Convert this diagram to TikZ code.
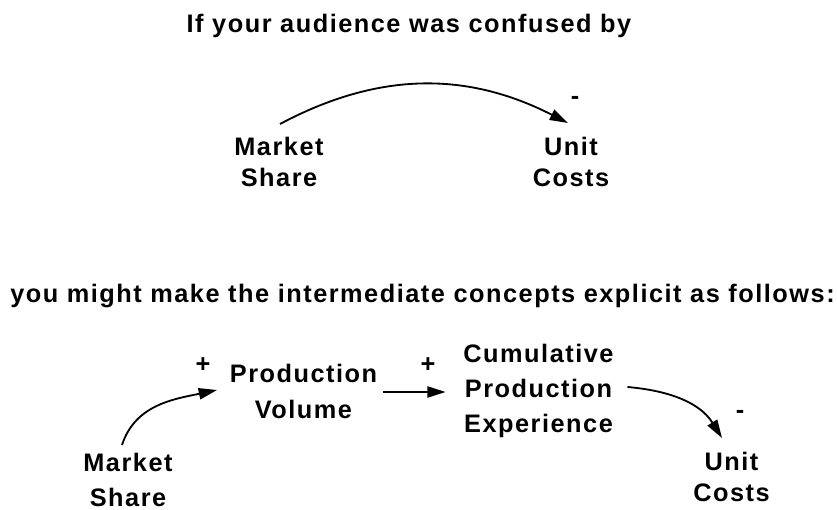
\documentclass[tikz,border=0pt]{standalone}
\usepackage{fontspec}
\setmainfont[LetterSpace=6]{Liberation Sans}
\usetikzlibrary{arrows.meta, positioning}

\begin{document}
\begin{tikzpicture}[x=0.025cm, y=-0.025cm, line width=1.3pt, >={Triangle[length=13pt, width=8pt]}]
        \tikzstyle{var} = [align=center, inner sep=0pt, font=\bfseries\fontsize{18}{25}\selectfont]
        \tikzstyle{tightvar} = [var, font=\bfseries\fontsize{18}{21.5}\selectfont]
        \tikzstyle{caption} = [inner sep=0pt, anchor=base, font=\bfseries\fontsize{18}{20}\selectfont]
        \tikzstyle{sign} = [inner sep=0pt, font=\bfseries\fontsize{18}{20}\selectfont]

        \useasboundingbox (0,0) rectangle (837,510);

        % the short version
        \node (question) [caption] at (409,33) {If your audience was confused by};
        \node (share) [tightvar] at (279,162) {Market\\Share};
        \node (costs) [tightvar] at (571,162) {Unit\\Costs};
        \node (costsign) [sign] at (575,100) {-};

        \draw [->] ([shift={(1,-38)}]share.center) to[out=28, in=153] ([shift={(-3,-39)}]costs.center);

        % the long version
        \node (answer) [caption] at (422.5,303) {you might make the intermediate concepts explicit as follows:};
        \node (share2) [var] at (128,480) {Market\\Share};
        \node (volume) [var] at (303.5,391.5) {Production\\Volume};
        \node (experience) [var] at (538.5,391) {Cumulative\\Production\\Experience};
        \node (costs2) [tightvar] at (731.5,477) {Unit\\Costs};

        \node (volumesign) [sign] at (203,365) {+};
        \node (experiencesign) [sign] at (428,365) {+};
        \node (costs2sign) [sign] at (740,414) {-};

        \draw [->] ([shift={(-6,-35)}]share2.center) to[out=72, in=192] ([shift={(-86.5,-1.5)}]volume.center);
        \draw [->] ([shift={(5,0.5)}]volume.east) -- ([shift={(-17,1)}]experience.west);
        \draw [->] ([shift={(13,-4)}]experience.east) to[out=-5, in=122] ([shift={(-9.5,-39)}]costs2.center);
    \end{tikzpicture}
\end{document}
